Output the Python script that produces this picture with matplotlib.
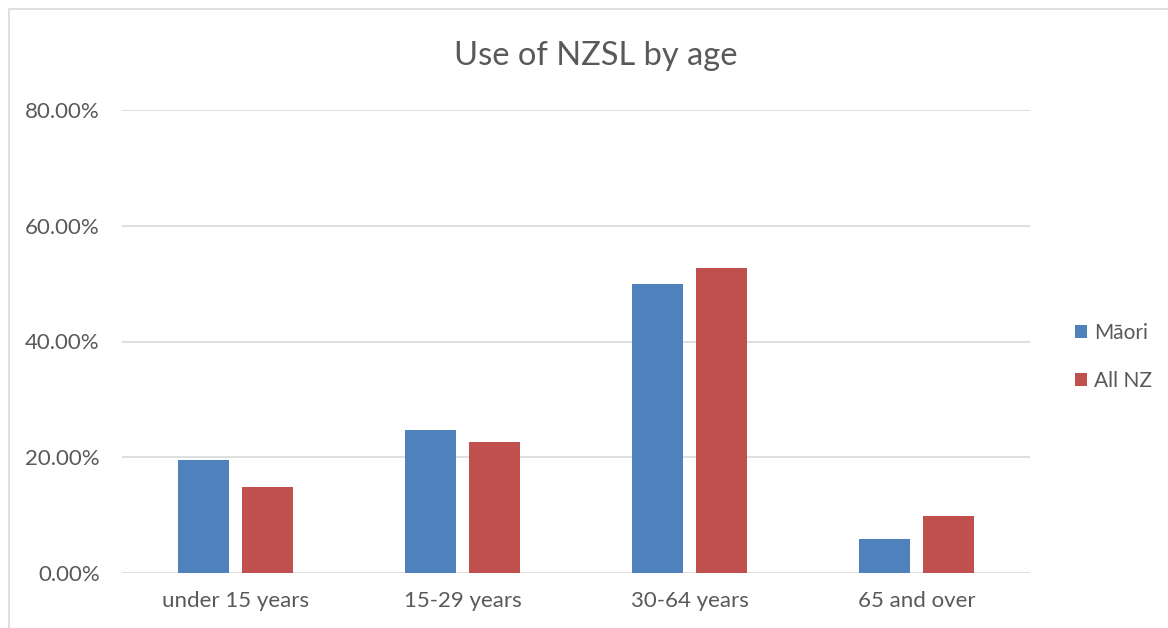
import numpy as np
import matplotlib.pyplot as plt
from matplotlib.patches import Rectangle
from matplotlib.ticker import FuncFormatter

# ---------------------- DATA ------------------------------
categories = ["under 15 years", "15-29 years", "30-64 years", "65 and over"]
maori = [19.5, 24.7, 49.9, 5.9]
all_nz = [14.9, 22.6, 52.7, 9.8]
series_names = ["Māori", "All NZ"]
yticks = [0, 20, 40, 60, 80]

BLUE = "#4F81BD"
RED = "#C0504D"
TEXT = "#595959"
GRID = "#D9D9D9"

plt.rcParams["font.family"] = ["Lato", "DejaVu Sans"]

fig = plt.figure(figsize=(11.68, 6.28), dpi=100)
ax = fig.add_axes([122 / 1168, 1 - 573 / 628, 908 / 1168, 463 / 628])

# outer chart frame (partially cut off at right/bottom)
fig.patches.append(Rectangle((9 / 1168, -0.1), 1.2, 1.1 - 9 / 628,
                             transform=fig.transFigure, fill=False,
                             edgecolor="#D9D9D9", linewidth=1.2))

x = np.arange(len(categories))
w = 0.225
off = 0.141
ax.bar(x - off, maori, w, color=BLUE, label=series_names[0], zorder=3)
ax.bar(x + off, all_nz, w, color=RED, label=series_names[1], zorder=3)

ax.set_xlim(-0.5, len(categories) - 0.5)
ax.set_ylim(0, 80)
ax.set_yticks(yticks)
ax.yaxis.set_major_formatter(FuncFormatter(lambda v, p: f"{v:.2f}%"))
ax.set_xticks(x)
ax.set_xticklabels(categories)
ax.tick_params(axis="both", length=0, labelsize=16, colors=TEXT)
ax.tick_params(axis="x", pad=13)
ax.tick_params(axis="y", pad=16)
ax.grid(axis="y", color=GRID, linewidth=1.2, zorder=0)
for s in ["top", "right", "left", "bottom"]:
    ax.spines[s].set_visible(False)

fig.text(596 / 1168, 1 - 56 / 628, "Use of NZSL by age", ha="center",
         va="center", fontsize=23.5, color=TEXT)

fig.legend(loc="center left", bbox_to_anchor=(1060 / 1168, 1 - 357 / 628),
           frameon=False, fontsize=15, labelcolor=TEXT,
           handlelength=0.6, handleheight=0.6, handletextpad=0.35,
           labelspacing=1.35, borderpad=0.2)

fig.savefig("out.png", dpi=100)
